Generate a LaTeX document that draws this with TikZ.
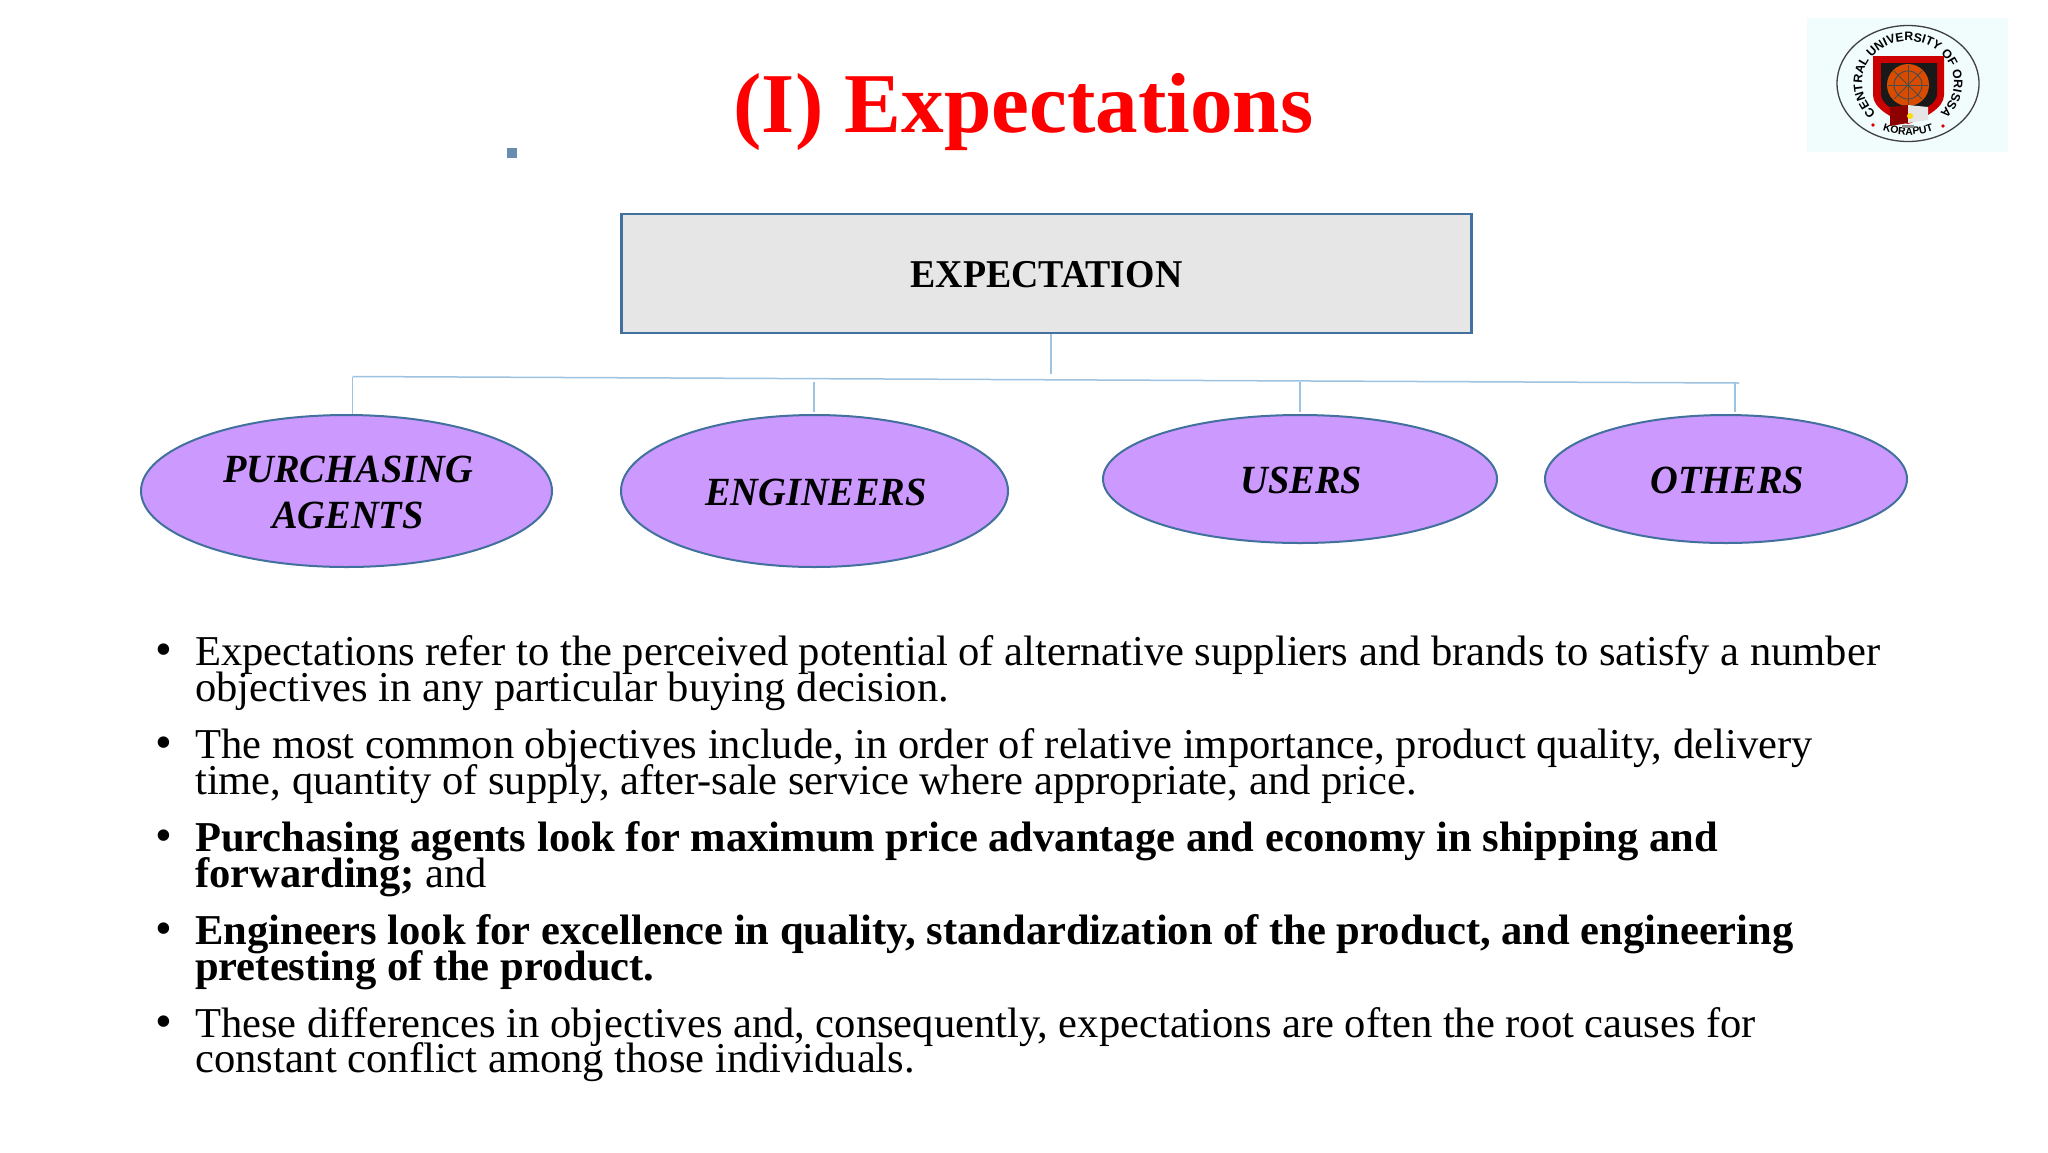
\documentclass[tikz,border=0pt]{standalone}
\usepackage{fontspec}
\setmainfont{Liberation Serif}
\newfontfamily\logofont{Liberation Sans}
\newfontfamily\ovalfont[FakeStretch=0.96]{Liberation Serif}
\usetikzlibrary{shapes.geometric,decorations.text,calc}
\definecolor{edgeblue}{HTML}{41719C}
\definecolor{linkblue}{HTML}{9DC3E0}
\definecolor{lilac}{HTML}{CC99FF}
\definecolor{boxgrey}{HTML}{E7E6E6}
\definecolor{titlered}{HTML}{FF0000}
\definecolor{logobg}{HTML}{F1FCFD}
\newcommand{\ovallabel}[1]{\hspace{3pt}\raisebox{0pt}[\dimexpr\height+10.4pt\relax][\depth]{\begin{tabular}{@{}c@{}}#1\end{tabular}}}
\tikzset{
  x=1pt,y=-1pt,
  headbox/.style={draw=edgeblue,line width=2.2pt,fill=boxgrey,minimum width=850pt,minimum height=119pt,inner sep=0pt},
  oval/.style={ellipse,draw=edgeblue,line width=2pt,fill=lilac,inner sep=0pt,align=center,font=\ovalfont\fontsize{40}{46}\selectfont\bfseries\itshape},
  link/.style={draw=linkblue,line width=1.5pt},
  bodyline/.style={anchor=base west,inner sep=0pt,font=\fontsize{42.55}{42.55}\selectfont},
  dot/.style={anchor=base,inner sep=0pt,font=\fontsize{48}{48}\selectfont},
}
\begin{document}
\begin{tikzpicture}
\useasboundingbox (0,0) rectangle (2048,1152);
\fill[white] (0,0) rectangle (2048,1152);
% title
\node[anchor=base,inner sep=0pt,text=titlered,font=\fontsize{85.2}{85.2}\selectfont\bfseries] (title) at (1023.5,132) {(I) Expectations};
\fill[edgeblue!80!white] (507,148) rectangle (517,158);
% logo
\fill[logobg] (1807,18) rectangle (2008,152);
\draw[black!75,line width=1.3pt] (1908,83.5) ellipse [x radius=71,y radius=58];
\path[decorate,decoration={text along path,text align=center,text={|\logofont\bfseries\fontsize{12.3}{12.3}\selectfont|CENTRAL UNIVERSITY OF ORISSA}}]
  (1908,83) ++(132:46 and 42) arc[start angle=132,end angle=408,x radius=46,y radius=42];
\path[decorate,decoration={text along path,text align=center,text={|\logofont\bfseries\fontsize{10.5}{10.5}\selectfont|KORAPUT}}]
  (1908,83) ++(115:64 and 52) arc[start angle=115,end angle=65,x radius=64,y radius=52];
\fill[red!85!black] (1873,125) circle (1.8) (1943,126) circle (1.8);
\fill[red!80!black] (1873,56) -- (1944,56) -- (1944,95) .. controls (1944,108) and (1925,118) .. (1908,124) .. controls (1891,118) and (1873,108) .. (1873,95) -- cycle;
\fill[black!90] (1881,63) -- (1937,63) -- (1937,94) .. controls (1937,104) and (1922,111) .. (1908,116) .. controls (1894,111) and (1881,104) .. (1881,94) -- cycle;
\fill[orange!70!red!85!black] (1908,85) circle (21);
\draw[black!70,line width=1pt] (1908,85) circle (14);
\foreach \a in {0,45,...,315}{\draw[black!70,line width=.9pt] (1908,85) -- ++(\a:20);}
\fill[red!55!black] (1890,107) -- (1908,105) -- (1908,123) -- (1890,126) -- cycle;
\fill[black!10] (1908,105) -- (1928,107) -- (1928,120) -- (1908,123) -- cycle;
\fill[yellow!80!orange] (1910,116) circle (3);
\fill[black!45] (1902,125) rectangle (1914,128);
% diagram
\node[headbox,font=\ovalfont\fontsize{39.4}{39.4}\selectfont\bfseries] (expect) at (1046.5,273.5) {\raisebox{0pt}[\dimexpr\height+2.6pt\relax][\depth]{EXPECTATION}};
\node[oval,minimum width=411pt,minimum height=152pt] (purch) at (346.5,491) {\ovallabel{PURCHASING\\AGENTS}};
\node[oval,minimum width=387pt,minimum height=152pt] (eng) at (814.5,491) {\ovallabel{ENGINEERS}};
\node[oval,minimum width=394pt,minimum height=128pt] (users) at (1300,479) {\ovallabel{USERS}};
\node[oval,minimum width=362pt,minimum height=128pt] (others) at (1726,479) {\ovallabel{OTHERS}};
\coordinate (busL) at (352.5,376.5);
\coordinate (busR) at (1739,383);
\coordinate (stem) at (1051,374);
\coordinate (dropE) at (814,382);
\coordinate (dropEb) at (814,412);
\coordinate (dropU) at (1300,382);
\coordinate (dropUb) at (1300,412);
\coordinate (dropO) at (1735,383);
\coordinate (dropOb) at (1735,412);
\path[link] (busL) -- (busR);
\path[link] (expect.south -| stem) -- (stem);
\path[link] (busL) -- (busL |- purch.north);
\path[link] (dropE) -- (dropEb);
\path[link] (dropU) -- (dropUb);
\path[link] (dropO) -- (dropOb);
% text
\foreach \n/\y in {a/665,b/758,c/851,d/944,e/1037}{\node[dot] (dot\n) at (164,\y) {•};}
\node[bodyline] (l1) at (195,665) {Expectations refer to the perceived potential of alternative suppliers and brands to satisfy a number};
\node[bodyline] (l2) at (195,701) {objectives in any particular buying decision.};
\node[bodyline] (l3) at (195,758) {The most common objectives include, in order of relative importance, product quality, delivery};
\node[bodyline] (l4) at (195,794) {time, quantity of supply, after-sale service where appropriate, and price.};
\node[bodyline] (l5) at (195,851) {\bfseries Purchasing agents look for maximum price advantage and economy in shipping and};
\node[bodyline] (l6) at (195,887) {\textbf{forwarding;} and};
\node[bodyline] (l7) at (195,944) {\bfseries Engineers look for excellence in quality, standardization of the product, and engineering};
\node[bodyline] (l8) at (195,980) {\bfseries pretesting of the product.};
\node[bodyline] (l9) at (195,1037) {These differences in objectives and, consequently, expectations are often the root causes for};
\node[bodyline] (l10) at (195,1072) {constant conflict among those individuals.};
\end{tikzpicture}
\end{document}
